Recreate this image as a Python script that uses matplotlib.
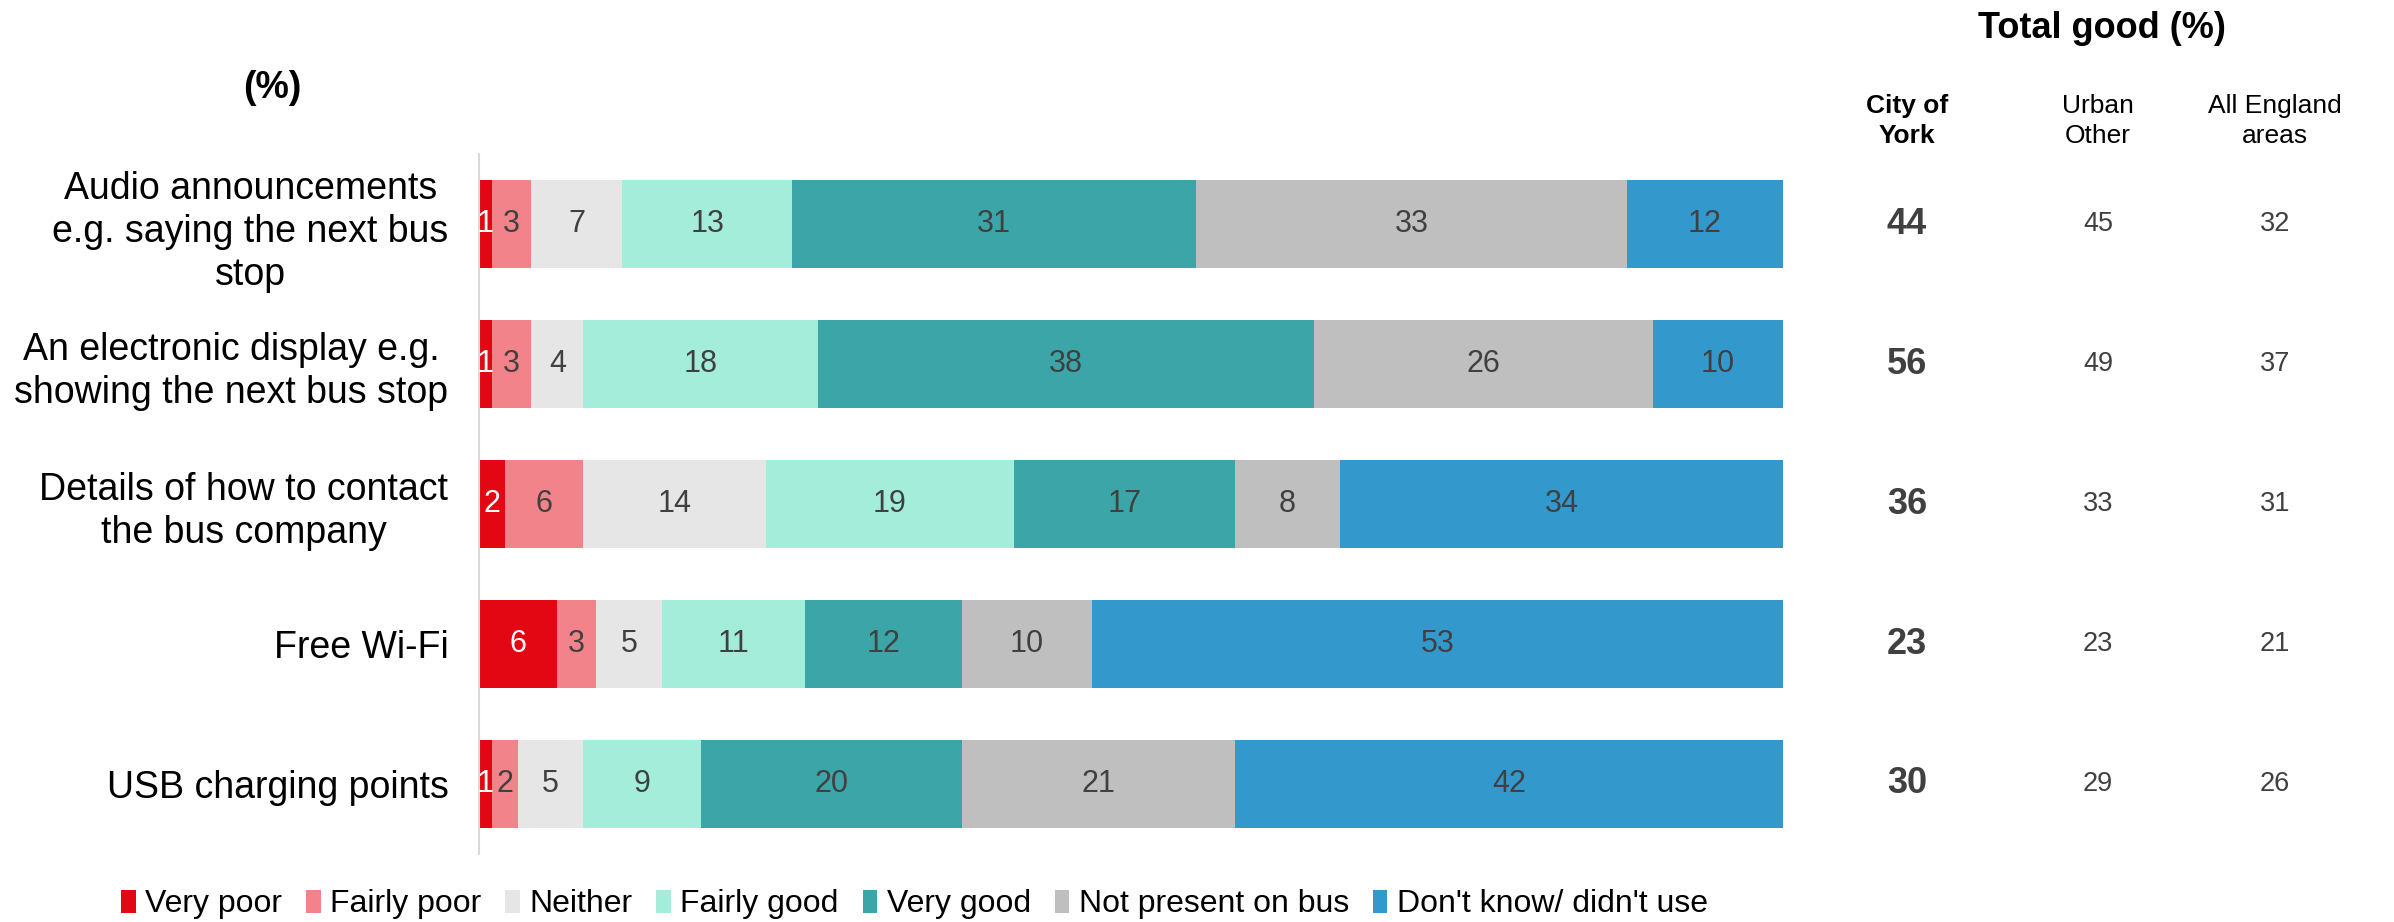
import matplotlib
matplotlib.use("Agg")
import matplotlib.pyplot as plt
from matplotlib.patches import Patch

plt.rcParams['font.family'] = ['Liberation Sans', 'DejaVu Sans']

features = [
    "Audio announcements\ne.g. saying the next bus\nstop",
    "An electronic display e.g.\nshowing the next bus stop",
    "Details of how to contact\nthe bus company",
    "Free Wi-Fi",
    "USB charging points",
]
ratings = ["Very poor", "Fairly poor", "Neither", "Fairly good", "Very good",
           "Not present on bus", "Don't know/ didn't use"]
very_poor = [1, 1, 2, 6, 1]
fairly_poor = [3, 3, 6, 3, 2]
neither = [7, 4, 14, 5, 5]
fairly_good = [13, 18, 19, 11, 9]
very_good = [31, 38, 17, 12, 20]
not_present = [33, 26, 8, 10, 21]
dont_know = [12, 10, 34, 53, 42]

york_good = [44, 56, 36, 23, 30]
urban_other_good = [45, 49, 33, 23, 29]
england_good = [32, 37, 31, 21, 26]

colors = ["#E30613", "#F2838A", "#E6E6E6", "#A4EDDB", "#3BA5A7", "#BFBFBF", "#3399CC"]
text_colors = ["white", "#404040", "#404040", "#404040", "#404040", "#404040", "#404040"]

series = [very_poor, fairly_poor, neither, fairly_good, very_good, not_present, dont_know]

fig = plt.figure(figsize=(23.94, 9.22), dpi=100)
ax = fig.add_axes([0.2001, 0.0738, 0.5447, 0.759])

ypos = list(range(len(features)))
left = [0] * len(features)
for vals, col, tcol in zip(series, colors, text_colors):
    bars = ax.barh(ypos, vals, left=left, color=col, height=0.63)
    for b, v in zip(bars, vals):
        ax.text(b.get_x() + b.get_width() / 2, b.get_y() + b.get_height() / 2, str(v),
                ha='center', va='center', fontsize=22, color=tcol)
    left = [l + v for l, v in zip(left, vals)]

ax.set_xlim(0, 100)
ax.set_ylim(len(features) - 0.5, -0.5)
ax.set_xticks([])
ax.set_yticks(ypos)
ax.set_yticklabels(features, fontsize=27, linespacing=1.25, multialignment='center')
ax.tick_params(axis='y', length=0, pad=22)
for s in ['top', 'right', 'bottom']:
    ax.spines[s].set_visible(False)
ax.spines['left'].set_color('#D9D9D9')
ax.spines['left'].set_linewidth(1.5)

fig.text(272 / 2394, 1 - 88 / 922, "(%)", ha='center', va='center', fontsize=27, fontweight='bold')

# Total good columns on the right
fig.text(2102 / 2394, 1 - 28 / 922, "Total good (%)", ha='center', va='center',
         fontsize=26, fontweight='bold')
col_x = [1907 / 2394, 2098 / 2394, 2275 / 2394]
headers = ["City of\nYork", "Urban\nOther", "All England\nareas"]
for x, h, w in zip(col_x, headers, ['bold', 'normal', 'normal']):
    fig.text(x, 1 - 121 / 922, h, ha='center', va='center', fontsize=19,
             fontweight=w, linespacing=1.35)

for i in ypos:
    for x, vals, fs, w in zip(col_x, [york_good, urban_other_good, england_good],
                              [26, 19.5, 19.5], ['bold', 'normal', 'normal']):
        ax.annotate(str(vals[i]), xy=(x, i), xycoords=('figure fraction', 'data'),
                    ha='center', va='center', fontsize=fs, fontweight=w,
                    color='#404040', annotation_clip=False)

handles = [Patch(facecolor=c, edgecolor='none') for c in colors]
fig.legend(handles, ratings, loc='center', bbox_to_anchor=(0.382, 0.019), ncol=7,
           frameon=False, fontsize=23, handlelength=0.45, handleheight=0.75,
           handletextpad=0.3, columnspacing=0.75)

fig.savefig("out.png", dpi=100)
